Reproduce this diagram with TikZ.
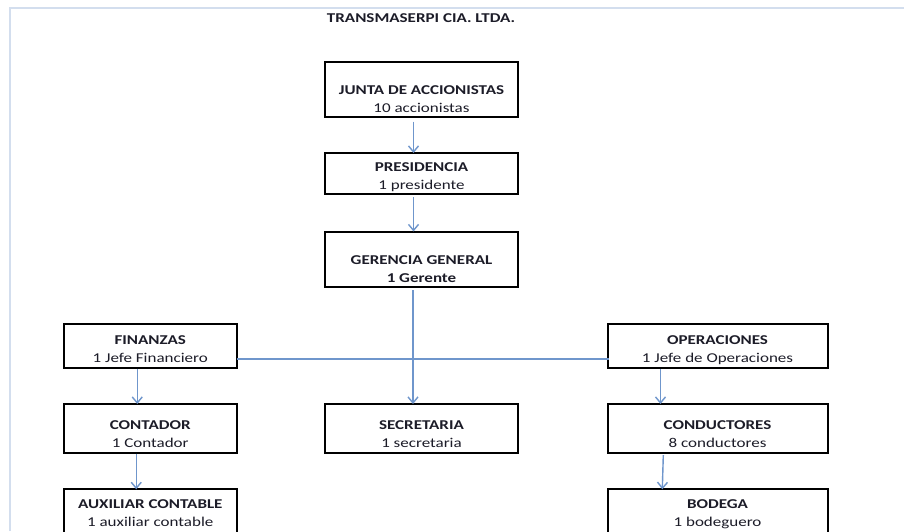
\documentclass[tikz,border=0pt]{standalone}
\usepackage{fontspec}
\setmainfont{Carlito}[FakeStretch=1.26]
\usetikzlibrary{arrows.meta,shadows}
\definecolor{linkblue}{HTML}{6F96CC}
\definecolor{pageline}{HTML}{D3DEEE}
\definecolor{ink}{HTML}{1C1C28}
\tikzset{
  orgbox/.style={draw=black, line width=2pt, fill=white, inner sep=0pt, outer sep=0pt,
    drop shadow={shadow xshift=1.3pt, shadow yshift=-1.3pt, fill=black!45, opacity=0.6}},
  lbl/.style={inner sep=0pt, outer sep=0pt, anchor=base, text=ink,
    font=\fontsize{13.5}{18}\selectfont},
  conn/.style={draw=linkblue, line width=1.4pt, -{Straight Barb[length=6pt,width=10pt]}},
  plainline/.style={draw=linkblue, line width=1.4pt},
  pageborder/.style={draw=pageline, line width=1.5pt}
}
% name, left, top, right, bottom, first baseline, line 1, line 2
\newcommand\orgunit[8]{%
  \node[orgbox, minimum width={(#4-#2)*1pt}, minimum height={(#5-#3)*1pt}]
    (#1) at ({(#2+#4)/2},{(#3+#5)/2}) {};
  \node[lbl] (#1-a) at ({(#2+#4)/2},#6) {#7};
  \node[lbl] (#1-b) at ({(#2+#4)/2},{#6+18}) {#8};
}
\begin{document}
\begin{tikzpicture}[x=1pt,y=-1pt]
\useasboundingbox (0,0) rectangle (904,531);
\fill[white] (0,0) rectangle (904,531);
\draw[pageborder] (10,531) -- (10,8) -- (904,8);

\node[lbl] (title) at (421,22) {\textbf{TRANSMASERPI CIA. LTDA.}};

\orgunit{junta}{325}{62}{518}{116.7}{94}{\textbf{JUNTA DE ACCIONISTAS}}{10 accionistas}
\orgunit{pres}{325}{153}{518}{194}{171.5}{\textbf{PRESIDENCIA}}{1 presidente}
\orgunit{ger}{325}{231.5}{518}{286.7}{264}{\textbf{GERENCIA GENERAL}}{\textbf{1 Gerente}}
\orgunit{fin}{64}{324}{236.5}{367.7}{344}{\textbf{FINANZAS}}{1 Jefe Financiero}
\orgunit{oper}{607.5}{324}{827.5}{367.7}{344}{\textbf{OPERACIONES}}{1 Jefe de Operaciones}
\orgunit{cont}{64}{404}{236.5}{452.7}{429}{\textbf{CONTADOR}}{1 Contador}
\orgunit{secr}{325}{404}{518}{452.7}{429}{\textbf{SECRETARIA}}{1 secretaria}
\orgunit{cond}{607.5}{404}{827.5}{452.7}{429}{\textbf{CONDUCTORES}}{8 conductores}
\orgunit{aux}{64}{489.3}{236.5}{535}{508.3}{\textbf{AUXILIAR CONTABLE}}{1 auxiliar contable}
\orgunit{bod}{607.5}{489.3}{827.5}{535}{508.3}{\textbf{BODEGA}}{1 bodeguero}

\draw[conn] ([xshift=-8pt,yshift=-5pt]junta.south) -- ([xshift=-8pt]pres.north);
\draw[conn] ([xshift=-8pt,yshift=-3pt]pres.south) -- ([xshift=-8pt]ger.north);
\draw[conn] ([xshift=-8.5pt,yshift=-3.3pt]ger.south) -- ([xshift=-8.5pt]secr.north);
\draw[plainline] ([yshift=-13.3pt]fin.east) -- ([yshift=-13.3pt,xshift=1.5pt]oper.west);
\draw[conn] ([xshift=-13pt,yshift=-1pt]fin.south) -- ([xshift=-13pt]cont.north);
\draw[conn] ([xshift=-14pt,yshift=-1pt]cont.south) -- ([xshift=-14pt]aux.north);
\draw[conn] ([xshift=-57pt,yshift=-1.5pt]oper.south) -- ([xshift=-57pt]cond.north);
\draw[conn] ([xshift=-54.2pt,yshift=-2.5pt]cond.south) -- ([xshift=-55.2pt]bod.north);
\end{tikzpicture}
\end{document}
